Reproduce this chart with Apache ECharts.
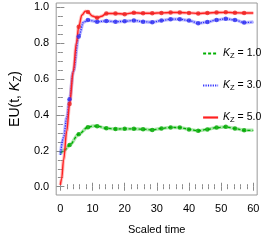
<!DOCTYPE html>
<html><head><meta charset="utf-8">
<script src="https://cdn.jsdelivr.net/npm/echarts@6/dist/echarts.min.js"></script>
<style>html,body{margin:0;padding:0;background:#fff}#c{width:262px;height:240px}</style>
</head><body><div id="c"></div>
<script>
// ---- data ----
const xTicks = [0, 10, 20, 30, 40, 50, 60];
const xTickLabels = ['0', '10', '20', '30', '40', '50', '60'];
const xMinorTicks = [2,4,6,8,12,14,16,18,22,24,26,28,32,34,36,38,42,44,46,48,52,54,56,58];
const yTicks = [0, 0.2, 0.4, 0.6, 0.8, 1.0];
const yTickLabels = ['0.0', '0.2', '0.4', '0.6', '0.8', '1.0'];
const yMinorTicks = [0.05,0.1,0.15,0.25,0.3,0.35,0.45,0.5,0.55,0.65,0.7,0.75,0.85,0.9,0.95];

const seriesNames = ['K1.0', 'K3.0', 'K5.0'];
const legendValues = ['1.0', '3.0', '5.0'];

// marker (mesh) times
const tMesh = [2.86, 5.71, 8.57, 11.43, 14.29, 17.14, 20.00, 22.86, 25.71, 28.57,
               31.43, 34.29, 37.14, 40.00, 42.86, 45.71, 48.57, 51.43, 54.29, 57.14];
const k1Mesh = [0.232, 0.292, 0.331, 0.337, 0.325, 0.321, 0.322, 0.322, 0.320, 0.316,
                0.324, 0.330, 0.329, 0.319, 0.311, 0.319, 0.329, 0.333, 0.324, 0.314];
const k3Mesh = [0.487, 0.836, 0.927, 0.918, 0.922, 0.918, 0.920, 0.925, 0.918, 0.915,
                0.924, 0.932, 0.932, 0.924, 0.910, 0.916, 0.928, 0.934, 0.928, 0.913];
const k5Mesh = [0.460, 0.890, 0.972, 0.940, 0.964, 0.964, 0.960, 0.968, 0.965, 0.965,
                0.967, 0.969, 0.969, 0.967, 0.964, 0.966, 0.969, 0.970, 0.968, 0.966];
// additional curve points (between markers)
const k1ExtraT = [0, 1.4, 10.2, 60];
const k1ExtraV = [0.186, 0.205, 0.338, 0.314];
const k3ExtraT = [0, 1, 2, 4, 7.2, 60];
const k3ExtraV = [0.177, 0.275, 0.385, 0.640, 0.915, 0.916];
const k5ExtraT = [0, 0.4, 1, 2, 4, 5, 6.7, 7.8, 9.9, 12.8, 60];
const k5ExtraV = [0.010, 0.045, 0.150, 0.310, 0.640, 0.800, 0.955, 0.977, 0.950, 0.948, 0.966];

function merge(tA, vA, tB, vB) {
  const pts = tA.map((t, i) => [t, vA[i]]).concat(tB.map((t, i) => [t, vB[i]]));
  pts.sort((a, b) => a[0] - b[0]);
  return pts;
}
function pairs(tA, vA) { return tA.map((t, i) => [t, vA[i]]); }
function lookup(vals, labels, v) {
  for (let i = 0; i < vals.length; i++) if (Math.abs(vals[i] - v) < 1e-6) return labels[i];
  return '';
}

const FONT = 'Liberation Sans';
const styles = [
  { core: '#00b000', halo: 'rgba(40,190,40,0.40)', mark: '#00a800', type: [3, 2], w: 1.3 },
  { core: '#2a2aff', halo: 'rgba(80,80,255,0.38)', mark: '#3030f0', type: [1.2, 1.2], w: 1.3 },
  { core: '#ff2020', halo: 'rgba(255,60,60,0.35)', mark: '#ee2222', type: 'solid', w: 1.4 }
];
const meshVals = [k1Mesh, k3Mesh, k5Mesh];
const lines = [
  merge(k1ExtraT, k1ExtraV, tMesh, k1Mesh),
  merge(k3ExtraT, k3ExtraV, tMesh, k3Mesh),
  merge(k5ExtraT, k5ExtraV, tMesh, k5Mesh)
];

const series = [];
for (let i = 0; i < 3; i++) {
  const s = styles[i];
  series.push({
    name: seriesNames[i] + '_halo', type: 'line', data: lines[i], symbol: 'none',
    smooth: 0.35, smoothMonotone: 'x', silent: true, z: 2 + i,
    lineStyle: { color: s.halo, width: 3.4 }
  });
  series.push({
    name: seriesNames[i], type: 'line', data: lines[i], symbol: 'none',
    smooth: 0.35, smoothMonotone: 'x', silent: true, z: 3 + i,
    lineStyle: { color: s.core, width: s.w, type: s.type }, itemStyle: { color: s.core }
  });
  series.push({
    name: seriesNames[i] + '_pts', type: 'scatter', data: pairs(tMesh, meshVals[i]),
    symbol: 'circle', symbolSize: 4.5, silent: true, z: 4 + i,
    itemStyle: { color: s.mark }
  });
}

const XMIN = -1.3, XMAX = 61.2, YMIN = -0.046, YMAX = 1.022;
const tickColor = '#8a8a8a';
function xAx(pos, custom, len, labels) {
  return {
    type: 'value', min: XMIN, max: XMAX, position: pos, gridIndex: 0,
    axisLine: { show: false }, splitLine: { show: false },
    axisTick: { show: true, inside: true, length: len, customValues: custom, lineStyle: { color: tickColor, width: 1 } },
    axisLabel: labels ? { show: true, customValues: xTicks, margin: 8, color: '#000', fontFamily: FONT, fontSize: 11,
      formatter: v => lookup(xTicks, xTickLabels, v) } : { show: false }
  };
}
function yAx(pos, custom, len, labels) {
  return {
    type: 'value', min: YMIN, max: YMAX, position: pos, gridIndex: 0,
    axisLine: { show: false }, splitLine: { show: false },
    axisTick: { show: true, inside: true, length: len, customValues: custom, lineStyle: { color: tickColor, width: 1 } },
    axisLabel: labels ? { show: true, customValues: yTicks, margin: 7, color: '#000', fontFamily: FONT, fontSize: 11,
      formatter: v => lookup(yTicks, yTickLabels, v) } : { show: false }
  };
}

const xAxes = [xAx('bottom', xTicks, 4, true), xAx('bottom', xMinorTicks, 2.5, false),
               xAx('top', xTicks, 4, false), xAx('top', xMinorTicks, 2.5, false)];
Object.assign(xAxes[0], { name: 'Scaled time', nameLocation: 'middle', nameGap: 29,
  nameTextStyle: { color: '#000', fontFamily: FONT, fontSize: 11 } });
const yAxes = [yAx('left', yTicks, 4, true), yAx('left', yMinorTicks, 2.5, false),
               yAx('right', yTicks, 4, false), yAx('right', yMinorTicks, 2.5, false)];
Object.assign(yAxes[0], { name: '{n|EU(t, }{k|K}{s|Z}{n|)}', nameLocation: 'middle', nameGap: 25, nameRotate: 90,
  nameTextStyle: { color: '#000', fontFamily: FONT, fontSize: 14,
    rich: { n: { fontFamily: FONT, fontSize: 14, color: '#000' },
            k: { fontFamily: FONT, fontSize: 14, fontStyle: 'italic', color: '#000' },
            s: { fontFamily: FONT, fontSize: 10, color: '#000', padding: [6, 0, 0, 0] } } } });

const chart = echarts.init(document.getElementById('c'), null, { renderer: 'canvas' });
chart.setOption({
  animation: false,
  backgroundColor: '#fff',
  grid: { left: 34, right: 3, top: 3, bottom: 45, show: true, borderColor: '#999', borderWidth: 1, backgroundColor: 'transparent' },
  xAxis: xAxes,
  yAxis: yAxes,
  legend: {
    data: seriesNames, orient: 'vertical', left: 197, top: 43, itemGap: 20,
    itemWidth: 15, itemHeight: 10, selectedMode: false,
    itemStyle: { opacity: 0 },
    lineStyle: { width: 2.2 },
    formatter: name => '{k|K}{s|Z}{t| = ' + legendValues[seriesNames.indexOf(name)] + '}',
    textStyle: { fontFamily: FONT, fontSize: 10.5, color: '#000',
      rich: { k: { fontFamily: FONT, fontSize: 10.5, fontStyle: 'italic', color: '#000' },
              s: { fontFamily: FONT, fontSize: 7.5, color: '#000', padding: [5, 0, 0, 0] },
              t: { fontFamily: FONT, fontSize: 10.5, color: '#000' } } }
  },
  series: series
});
</script></body></html>
